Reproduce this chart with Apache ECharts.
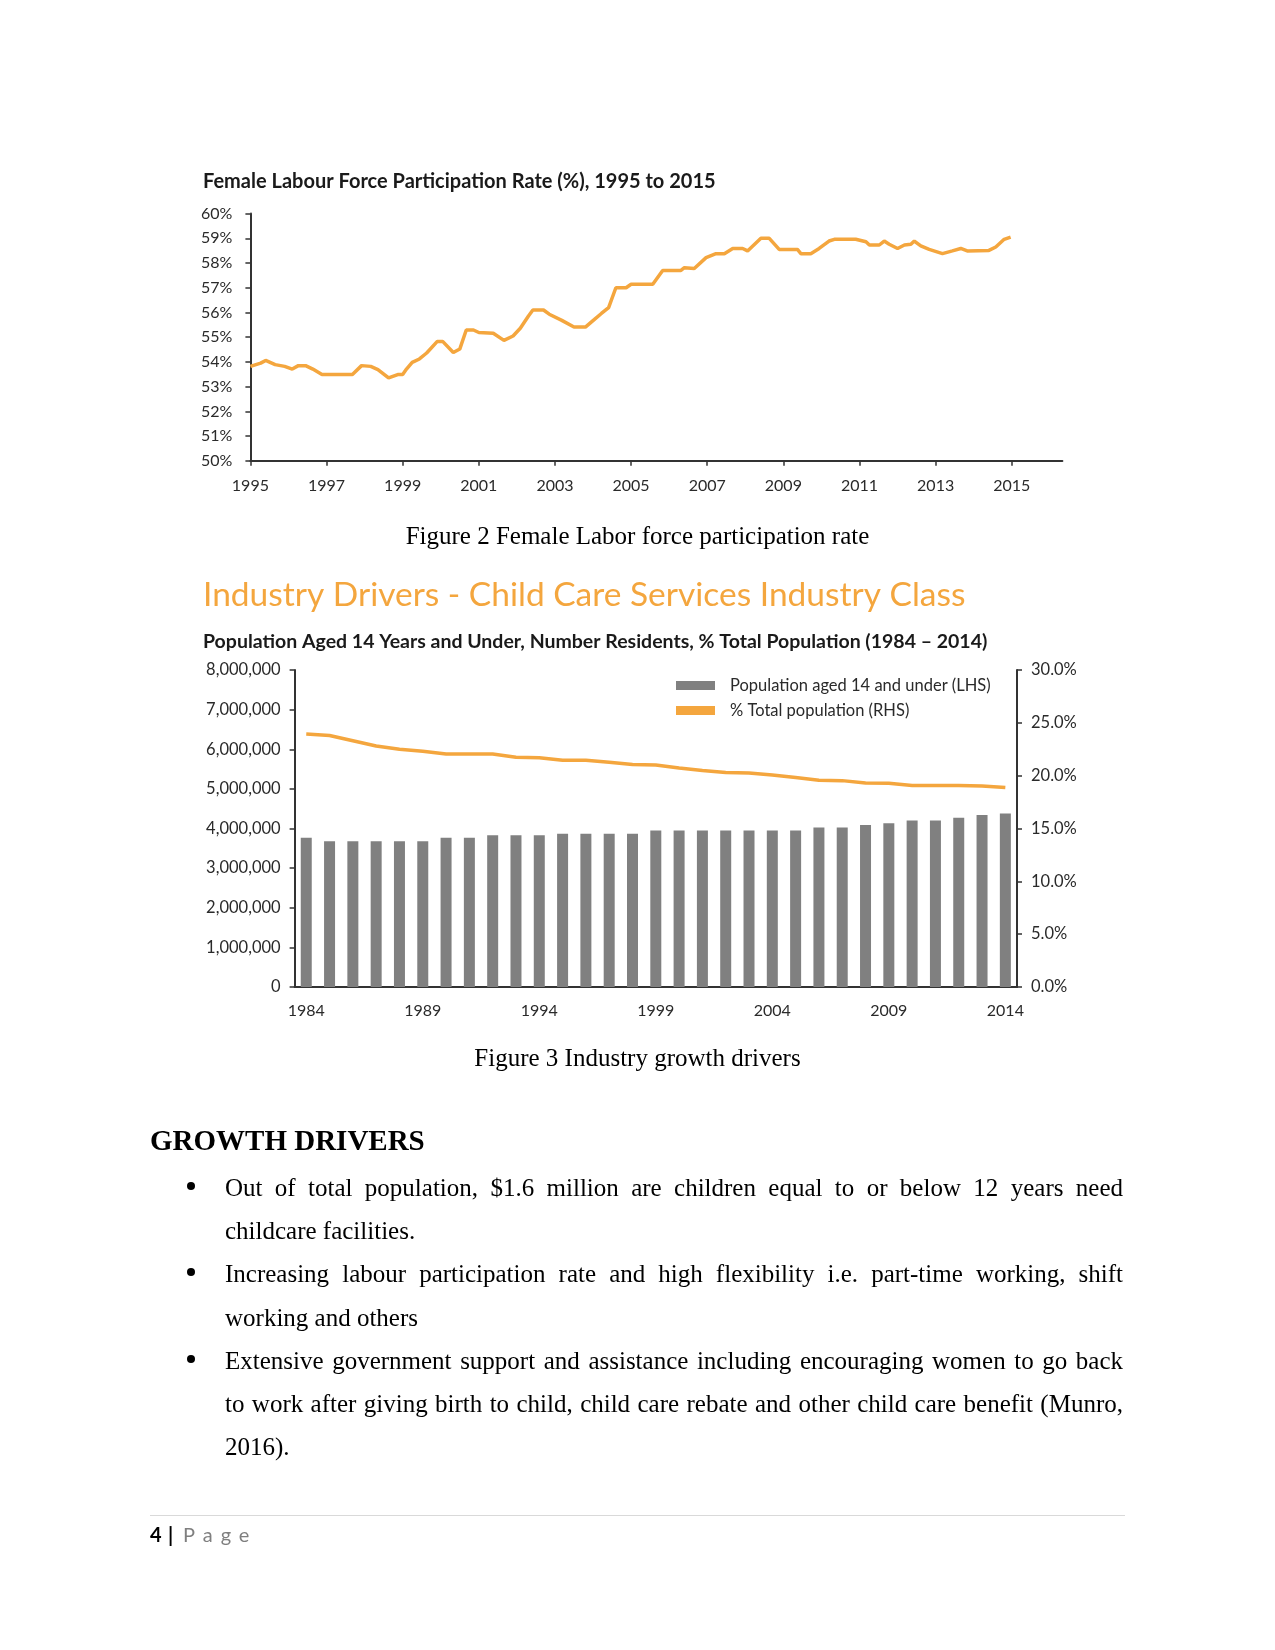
<!DOCTYPE html>
<html>
<head>
<meta charset="utf-8">
<script src="https://cdn.jsdelivr.net/npm/echarts@6/dist/echarts.min.js"></script>
<style>
  html, body { margin:0; padding:0; background:#fff; }
  #page { position:relative; width:1275px; height:1650px; overflow:hidden; }
  #chart { position:absolute; left:0; top:0; width:1275px; height:1650px; }
  .doc { position:absolute; font-family:"Liberation Serif","Times New Roman",serif; color:#000; z-index:2; }
  .cap { font-size:25px; line-height:30px; width:1275px; left:0; text-align:center; }
  .head { font-size:29px; font-weight:bold; line-height:30px; left:150px; }
  .bul { left:225px; width:898px; font-size:25px; line-height:43.2px; text-align:justify; }
  .bul p { margin:0; position:relative; }
  .bul p::before { content:""; position:absolute; left:-38px; top:16px; width:8px; height:8px; border-radius:50%; background:#000; }
  .foot { position:absolute; z-index:2; font-family:Lato,"Open Sans",sans-serif; font-size:20px; line-height:24px; }
</style>
</head>
<body>
<div id="page">
  <div id="chart"></div>
  <div class="doc cap" style="top:521px;">Figure 2 Female Labor force participation rate</div>
  <div class="doc cap" style="top:1043px;">Figure 3 Industry growth drivers</div>
  <div class="doc head" style="top:1125px;">GROWTH DRIVERS</div>
  <div class="doc bul" style="top:1166px;">
    <p>Out of total population, $1.6 million are children equal to or below 12 years need childcare facilities.</p>
    <p>Increasing labour participation rate and high flexibility i.e. part-time working, shift working and others</p>
    <p>Extensive government support and assistance including encouraging women to go back to work after giving birth to child, child care rebate and other child care benefit (Munro, 2016).</p>
  </div>
  <div style="position:absolute; left:150px; top:1515px; width:975px; height:0; border-top:1px solid #d9d9d9;"></div>
  <div class="foot" style="top:1522px; left:150px; font-weight:bold;">4</div>
  <div class="foot" style="top:1522px; left:168px; font-weight:bold;">|</div>
  <div class="foot" style="top:1522px; left:183px; color:#7f7f7f; letter-spacing:8px;">Page</div>
</div>
<script>
// ---- Chart 1: Female labour force participation rate ----
const femaleYears = [1995.0, 1995.27, 1995.4, 1995.65, 1995.9, 1996.1, 1996.26, 1996.45, 1996.64, 1996.88, 1997.16, 1997.68, 1997.92, 1998.16, 1998.35, 1998.63, 1998.87, 1999.0, 1999.1, 1999.25, 1999.44, 1999.63, 1999.91, 2000.05, 2000.33, 2000.5, 2000.67, 2000.86, 2001.0, 2001.38, 2001.66, 2001.9, 2002.09, 2002.3, 2002.42, 2002.7, 2002.85, 2003.18, 2003.5, 2003.8, 2004.03, 2004.22, 2004.41, 2004.6, 2004.87, 2005.0, 2005.57, 2005.83, 2006.31, 2006.4, 2006.66, 2006.97, 2007.23, 2007.45, 2007.67, 2007.93, 2008.06, 2008.41, 2008.63, 2008.89, 2009.37, 2009.46, 2009.72, 2009.94, 2010.2, 2010.34, 2010.9, 2010.95, 2011.17, 2011.26, 2011.52, 2011.65, 2011.78, 2012.0, 2012.18, 2012.35, 2012.44, 2012.61, 2012.83, 2013.18, 2013.44, 2013.66, 2013.83, 2014.4, 2014.58, 2014.8, 2014.97];
const femaleRates = [53.82, 53.95, 54.06, 53.89, 53.82, 53.71, 53.85, 53.85, 53.71, 53.49, 53.49, 53.49, 53.85, 53.82, 53.69, 53.35, 53.49, 53.49, 53.71, 53.98, 54.12, 54.36, 54.83, 54.83, 54.38, 54.52, 55.29, 55.29, 55.19, 55.16, 54.87, 55.05, 55.36, 55.85, 56.1, 56.1, 55.93, 55.68, 55.41, 55.41, 55.71, 55.96, 56.2, 57.0, 57.0, 57.14, 57.14, 57.7, 57.7, 57.81, 57.78, 58.22, 58.38, 58.38, 58.59, 58.59, 58.49, 59.0, 59.0, 58.55, 58.55, 58.38, 58.38, 58.59, 58.89, 58.96, 58.96, 59.0, 58.86, 58.73, 58.73, 58.89, 58.76, 58.59, 58.73, 58.76, 58.89, 58.69, 58.55, 58.38, 58.49, 58.59, 58.49, 58.51, 58.65, 58.96, 59.05];
const femaleTickYears = [1995, 1997, 1999, 2001, 2003, 2005, 2007, 2009, 2011, 2013, 2015];

// ---- Chart 2: Population aged 14 and under ----
const popYears = ['1984','1985','1986','1987','1988','1989','1990','1991','1992','1993','1994','1995','1996','1997','1998','1999','2000','2001','2002','2003','2004','2005','2006','2007','2008','2009','2010','2011','2012','2013','2014'];
const popUnder14 = [3765000, 3680000, 3680000, 3680000, 3680000, 3680000, 3765000, 3765000, 3830000, 3830000, 3830000, 3870000, 3870000, 3870000, 3870000, 3950000, 3950000, 3950000, 3950000, 3950000, 3950000, 3950000, 4025000, 4025000, 4090000, 4130000, 4200000, 4200000, 4270000, 4340000, 4380000];
const popSharePct = [23.94, 23.8, 23.3, 22.8, 22.5, 22.3, 22.05, 22.05, 22.05, 21.74, 21.7, 21.45, 21.45, 21.27, 21.05, 21.0, 20.73, 20.48, 20.3, 20.26, 20.07, 19.82, 19.57, 19.53, 19.31, 19.28, 19.06, 19.06, 19.06, 19.03, 18.87];

const chart = echarts.init(document.getElementById('chart'), null, {renderer:'canvas'});
const FONT = 'Lato';
const axisCol = '#333';
const labCol = '#2a2a2a';
const orange = '#F4A63E';

chart.setOption({
  animation: false,
  backgroundColor: 'transparent',
  title: [
    { text: 'Female Labour Force Participation Rate (%), 1995 to 2015', left: 203, top: 170, padding: 0,
      textStyle: { fontFamily: FONT, fontWeight: 'bold', fontSize: 20, lineHeight: 24, color: '#1a1a1a' } },
    { text: 'Industry Drivers - Child Care Services Industry Class', left: 203, top: 575.5, padding: 0,
      textStyle: { fontFamily: FONT, fontWeight: 'normal', fontSize: 33.5, lineHeight: 40, color: orange } },
    { text: 'Population Aged 14 Years and Under, Number Residents, % Total Population (1984 \u2013 2014)', left: 203, top: 630, padding: 0,
      textStyle: { fontFamily: FONT, fontWeight: 'bold', fontSize: 19.5, lineHeight: 24, color: '#1a1a1a' } }
  ],
  legend: {
    left: 676, top: 677, orient: 'vertical', itemWidth: 39, itemHeight: 9, itemGap: 8, padding: 0,
    textStyle: { fontFamily: FONT, fontSize: 16.5, lineHeight: 16, color: labCol, padding: [0,0,0,10] },
    data: [
      { name: 'Population aged 14 and under (LHS)', icon: 'rect', itemStyle: { color: '#808080' } },
      { name: '% Total population (RHS)', icon: 'rect', itemStyle: { color: orange } }
    ]
  },
  grid: [
    { left: 250.4, top: 213.6, width: 812, height: 247.2 },
    { left: 294.6, top: 670, width: 722.4, height: 317 }
  ],
  xAxis: [
    { gridIndex: 0, type: 'value', min: 1995, max: 2016.33,
      axisLine: { show: true, lineStyle: { color: axisCol, width: 2 } },
      axisTick: { show: true, customValues: femaleTickYears, length: 5, lineStyle: { color: axisCol, width: 1.5 } },
      axisLabel: { customValues: femaleTickYears, margin: 17, fontFamily: FONT, fontSize: 16, color: labCol, formatter: v => String(v) },
      splitLine: { show: false } },
    { gridIndex: 1, type: 'category', data: popYears, boundaryGap: true,
      axisLine: { show: true, lineStyle: { color: axisCol, width: 2 } },
      axisTick: { show: false },
      axisLabel: { interval: 4, margin: 16, fontFamily: FONT, fontSize: 16, color: labCol } }
  ],
  yAxis: [
    { gridIndex: 0, type: 'value', min: 50, max: 60, interval: 1,
      axisLine: { show: true, lineStyle: { color: axisCol, width: 2 } },
      axisTick: { show: true, length: 5, lineStyle: { color: axisCol, width: 1.5 } },
      axisLabel: { margin: 18, fontFamily: FONT, fontSize: 16, color: labCol, formatter: '{value}%' },
      splitLine: { show: false } },
    { gridIndex: 1, type: 'value', min: 0, max: 8000000, interval: 1000000, position: 'left',
      axisLine: { show: true, lineStyle: { color: axisCol, width: 2 } },
      axisTick: { show: true, length: 5, lineStyle: { color: axisCol, width: 1.5 } },
      axisLabel: { margin: 14, fontFamily: FONT, fontSize: 16.5, color: labCol,
        formatter: v => v === 0 ? '0' : v.toLocaleString('en-US') },
      splitLine: { show: false } },
    { gridIndex: 1, type: 'value', min: 0, max: 30, interval: 5, position: 'right',
      axisLine: { show: true, lineStyle: { color: axisCol, width: 2 } },
      axisTick: { show: true, length: 5, lineStyle: { color: axisCol, width: 1.5 } },
      axisLabel: { margin: 14, fontFamily: FONT, fontSize: 16.5, color: labCol, formatter: v => v.toFixed(1) + '%' },
      splitLine: { show: false } }
  ],
  series: [
    { type: 'line', xAxisIndex: 0, yAxisIndex: 0, showSymbol: false, symbol: 'none',
      data: femaleYears.map((y, i) => [y, femaleRates[i]]),
      lineStyle: { color: orange, width: 3.5 }, itemStyle: { color: orange } },
    { name: 'Population aged 14 and under (LHS)', type: 'bar', xAxisIndex: 1, yAxisIndex: 1,
      data: popUnder14, barWidth: 11, itemStyle: { color: '#808080' } },
    { name: '% Total population (RHS)', type: 'line', xAxisIndex: 1, yAxisIndex: 2, showSymbol: false, symbol: 'none',
      data: popSharePct, lineStyle: { color: orange, width: 3.5 }, itemStyle: { color: orange } }
  ]
});
</script>
</body>
</html>
